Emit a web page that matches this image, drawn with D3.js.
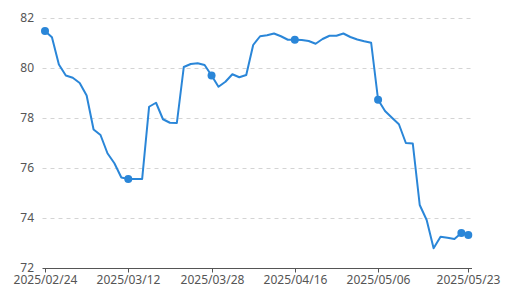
<!DOCTYPE html>
<html>
<head>
<meta charset="utf-8">
<script src="https://cdn.jsdelivr.net/npm/d3@7"></script>
<style>
  body { margin: 0; background: #fff; }
  text { font-family: "Noto Sans", "Open Sans", sans-serif; }
</style>
</head>
<body>
<div id="chart"></div>
<script>
// trading days (category axis)
const dates = [
  "2025/02/24","2025/02/25","2025/02/26","2025/02/27","2025/02/28",
  "2025/03/03","2025/03/04","2025/03/05","2025/03/06","2025/03/07",
  "2025/03/10","2025/03/11","2025/03/12","2025/03/13","2025/03/14",
  "2025/03/17","2025/03/18","2025/03/19","2025/03/20","2025/03/21",
  "2025/03/24","2025/03/25","2025/03/26","2025/03/27","2025/03/28",
  "2025/03/31","2025/04/01","2025/04/02","2025/04/03","2025/04/07",
  "2025/04/08","2025/04/09","2025/04/10","2025/04/11","2025/04/14",
  "2025/04/15","2025/04/16","2025/04/17","2025/04/18","2025/04/21",
  "2025/04/22","2025/04/23","2025/04/24","2025/04/25","2025/04/27",
  "2025/04/28","2025/04/29","2025/04/30","2025/05/06","2025/05/07",
  "2025/05/08","2025/05/09","2025/05/12","2025/05/13","2025/05/14",
  "2025/05/15","2025/05/16","2025/05/19","2025/05/20","2025/05/21",
  "2025/05/22","2025/05/23"
];
const values = [
  81.48, 81.23, 80.14, 79.70, 79.61, 79.40, 78.90, 77.54, 77.32, 76.59,
  76.19, 75.62, 75.56, 75.56, 75.56, 78.45, 78.61, 77.95, 77.81, 77.80,
  80.04, 80.16, 80.19, 80.12, 79.70, 79.25, 79.45, 79.75, 79.63, 79.72,
  80.92, 81.27, 81.31, 81.38, 81.27, 81.13, 81.13, 81.12, 81.08, 80.97,
  81.16, 81.29, 81.29, 81.38, 81.24, 81.14, 81.07, 81.01, 78.73, 78.28,
  78.01, 77.75, 77.00, 76.98, 74.52, 73.92, 72.79, 73.25, 73.21, 73.16,
  73.40, 73.32
];
const yTicks = [72, 74, 76, 78, 80, 82];
const labelIdx = [0, 12, 24, 36, 48, 61];
const markerIdx = [0, 12, 24, 36, 48, 60, 61];

const W = 514, H = 297;
const lineColor = "#2a86d8";
const textColor = "#555";

const svg = d3.select("#chart").append("svg")
  .attr("width", W).attr("height", H);

const x = d3.scaleLinear().domain([0, dates.length - 1]).range([45, 468.3]);
const y = d3.scaleLinear().domain([72, 82]).range([268, 18]);
const gridLeft = 42.5, gridRight = 472;

// dashed grid
svg.append("g")
  .selectAll("line")
  .data(yTicks.filter(d => d !== 72))
  .enter()
  .append("line")
  .attr("x1", gridLeft).attr("x2", gridRight)
  .attr("y1", d => Math.round(y(d)) + 0.5).attr("y2", d => Math.round(y(d)) + 0.5)
  .attr("stroke", "#d4d4d4")
  .attr("stroke-dasharray", "4,4");

// y labels
svg.append("g")
  .selectAll("text")
  .data(yTicks)
  .enter()
  .append("text")
  .attr("x", 34)
  .attr("y", d => y(d))
  .attr("dy", "0.32em")
  .attr("text-anchor", "end")
  .attr("font-size", 12)
  .attr("fill", textColor)
  .text(d => d);

// x axis
svg.append("line")
  .attr("x1", gridLeft).attr("x2", gridRight)
  .attr("y1", 268.5).attr("y2", 268.5)
  .attr("stroke", "#555");

const xg = svg.append("g")
  .selectAll("g")
  .data(labelIdx)
  .enter()
  .append("g")
  .attr("transform", d => `translate(${Math.round(x(d)) + 0.5},268)`);
xg.append("line").attr("y1", 0).attr("y2", 4.5).attr("stroke", "#555");
xg.append("text")
  .attr("y", 16)
  .attr("text-anchor", "middle")
  .attr("font-size", 12)
  .attr("fill", textColor)
  .text(d => dates[d]);

// line
const line = d3.line()
  .x((d, i) => x(i))
  .y(d => y(d));

svg.append("path")
  .datum(values)
  .attr("d", line)
  .attr("fill", "none")
  .attr("stroke", lineColor)
  .attr("stroke-width", 2)
  .attr("stroke-linejoin", "round");

svg.append("g")
  .selectAll("circle")
  .data(markerIdx)
  .enter()
  .append("circle")
  .attr("cx", d => x(d))
  .attr("cy", d => y(values[d]))
  .attr("r", 4)
  .attr("fill", lineColor);
</script>
</body>
</html>
